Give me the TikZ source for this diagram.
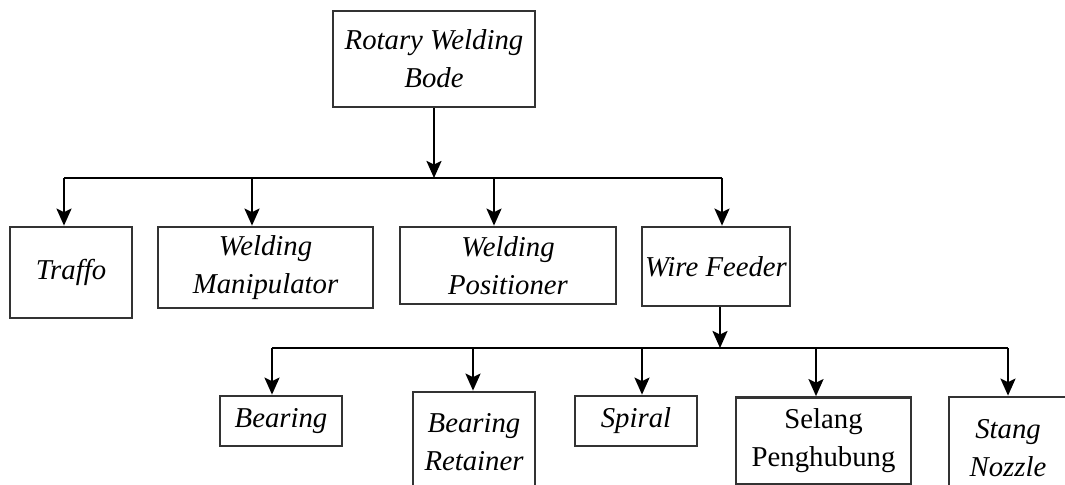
\documentclass[tikz,border=0pt]{standalone}
\usepackage{fontspec}
\setmainfont{Liberation Serif}
\usetikzlibrary{arrows.meta}

\tikzset{
	blok/.style={draw=black!80, line width=1.1pt, inner sep=0pt, align=center,
		font=\fontsize{11.5}{15.2}\selectfont\itshape},
	panah/.style={-{Stealth[length=6.8pt,width=6pt,inset=1.4pt]}, line width=0.9pt},
}

\begin{document}
\begin{tikzpicture}[x=0.4pt, y=-0.4pt]
		\clip (0,0) rectangle (1065,485);
		% tingkat atas
		\node[blok, minimum width=80.8pt, minimum height=38.4pt] (top) at (434,59) {Rotary Welding\\Bode};
		% tingkat kedua
		\node[blok, minimum width=48.8pt, minimum height=36.4pt] (trf) at (71,272.5) {Traffo};
		\node[blok, minimum width=86pt, minimum height=32.4pt] (man) at (265.5,267.5) {Welding\\Manipulator};
		\node[blok, minimum width=86.4pt, minimum height=30.8pt] (pos) at (508,265.5) {Welding\\Positioner};
		\node[blok, minimum width=59.2pt, minimum height=31.6pt] (feed) at (716,266.5) {Wire Feeder};
		% komponen wire feeder
		\node[blok, minimum width=48.8pt, minimum height=20pt] (brg) at (281,421) {Bearing};
		\node[blok, minimum width=48.8pt, minimum height=40pt] (ret) at (474,442) {Bearing\\Retainer};
		\node[blok, minimum width=48.8pt, minimum height=20pt] (spi) at (636,421) {Spiral};
		\node[blok, minimum width=70pt, minimum height=34.8pt, font=\fontsize{11.5}{15.2}\selectfont\upshape] (sel) at (823.5,441) {Selang\\Penghubung};
		\node[blok, minimum width=47.2pt, minimum height=40.8pt] (noz) at (1008,448) {Stang\\Nozzle};

		% cabang pertama
		\foreach \x/\n in {64/trf,252/man,494/pos,722/feed}{
			\coordinate (d\n) at (\x,178);
			\draw[panah] (d\n) -- (d\n |- \n.north);
		}
		\draw[line width=0.9pt] (dtrf) -- (dfeed);
		\draw[panah] (top.south) -- (top.south |- dtrf);

		% cabang kedua
		\foreach \x/\n in {272/brg,473/ret,642/spi,816/sel,1008/noz}{
			\coordinate (d\n) at (\x,348);
			\draw[panah] (d\n) -- (d\n |- \n.north);
		}
		\draw[line width=0.9pt] (dbrg) -- (dnoz);
		\coordinate (e) at (720,348);
		\draw[panah] (e |- feed.south) -- (e);
	\end{tikzpicture}
\end{document}
